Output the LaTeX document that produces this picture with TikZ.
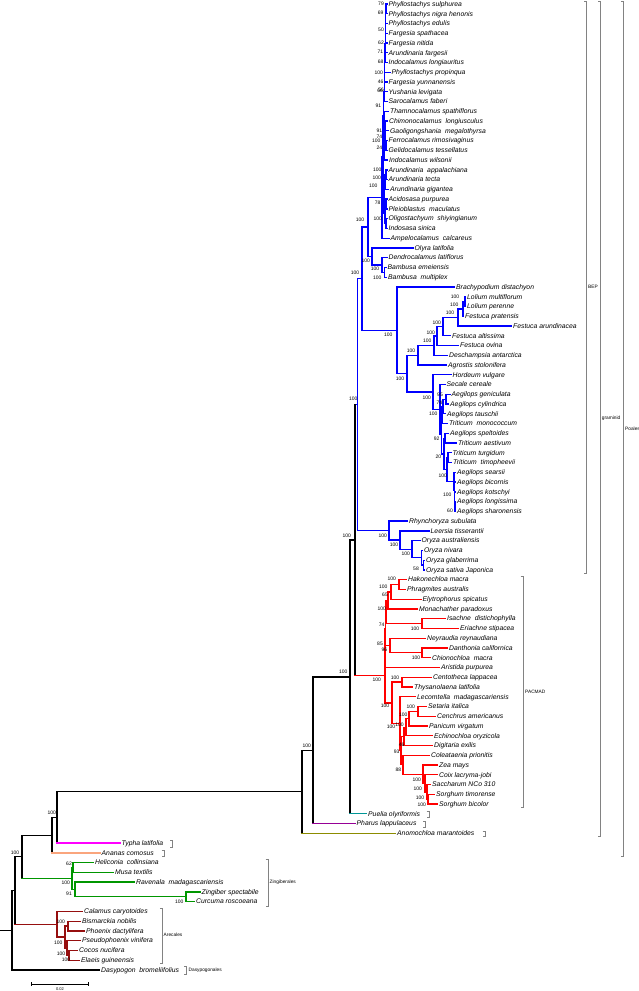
\documentclass[tikz,border=0pt]{standalone}
\usepackage{fontspec}
\setmainfont{Liberation Sans}
\usetikzlibrary{calc}
\definecolor{cbl}{RGB}{0,0,255}
\definecolor{crd}{RGB}{255,0,0}
\definecolor{cgr}{RGB}{0,150,0}
\definecolor{cdr}{RGB}{150,15,15}
\definecolor{cmg}{RGB}{255,0,255}
\definecolor{csl}{RGB}{250,165,125}
\definecolor{ctl}{RGB}{0,150,150}
\definecolor{cpu}{RGB}{150,0,150}
\definecolor{col}{RGB}{140,140,0}
\definecolor{cblk}{RGB}{0,0,0}
\definecolor{cgy}{RGB}{130,130,130}
\tikzset{
  br/.style={line width=1.3pt, line cap=rect},
  leaflab/.style={anchor=base west, inner sep=0pt, xshift=1.5pt, yshift=-2.3pt, font=\fontsize{6.8}{7}\selectfont\itshape},
  bs/.style={inner sep=0pt, font=\fontsize{5}{5}\selectfont},
  brk/.style={draw=cgy, line width=0.8pt},
  brklab/.style={anchor=west, inner sep=0pt, font=\fontsize{4.8}{5}\selectfont},
}
\newcommand\mkleaf[4]{%
  \coordinate (#1) at (#3, {4+(#2-1)*9.757});
  \node[leaflab] (#1t) at (#1) {#4};}
\newcommand\mkinode[7]{%
  \path let \p1=(#3), \p2=(#4) in coordinate (#1) at (#2pt, {0.5*(\y1)+0.5*(\y2)});
  \draw[br,#5] (#3) -- (#1 |- #3);
  \draw[br,#6] (#1 |- #3) -- (#1 |- #4);
  \draw[br,#7] (#1 |- #4) -- (#4);}
\newcommand\mknode[5]{\mkinode{#1}{#2}{#3}{#4}{#5}{#5}{#5}}
\newcommand\mkbrk[3]{\draw[brk] (#1-2.5,#2) -- (#1,#2) -- (#1,#3) -- (#1-2.5,#3);}
\begin{document}
\begin{tikzpicture}[x=1pt,y=-1pt]
\useasboundingbox (0,0) rectangle (639,991);
\fill[white] (0,0) rectangle (639,991);
% leaves
\foreach \tx/\lab [count=\i] in {
387/Phyllostachys sulphurea,
387/Phyllostachys nigra henonis,
387/Phyllostachys edulis,
387/Fargesia spathacea,
387/Fargesia nitida,
387/Arundinaria fargesii,
387/Indocalamus longiauritus,
390/Phyllostachys propinqua,
387/Fargesia yunnanensis,
387/Yushania levigata,
387/Sarocalamus faberi,
388.5/Thamnocalamus spathiflorus,
387.5/Chimonocalamus\ \ longiusculus,
388.5/Gaoligongshania\ \ megalothyrsa,
387/Ferrocalamus rimosivaginus,
387/Gelidocalamus tessellatus,
387.5/Indocalamus wilsonii,
387/Arundinaria\ \ appalachiana,
387/Arundinaria tecta,
388.5/Arundinaria gigantea,
387/Acidosasa purpurea,
387/Pleioblastus\ \ maculatus,
387/Oligostachyum\ \ shiyingianum,
387/Indosasa sinica,
389/Ampelocalamus\ \ calcareus,
413/Olyra latifolia,
387/Dendrocalamus latiflorus,
386/Bambusa emeiensis,
386.5/Bambusa\ \ multiplex,
454.5/Brachypodium distachyon,
465.5/Lolium multiflorum,
465.5/Lolium perenne,
463.5/Festuca pratensis,
511.5/Festuca arundinacea,
450.5/Festuca altissima,
458.5/Festuca ovina,
447.5/Deschampsia antarctica,
446.5/Agrostis stolonifera,
451/Hordeum vulgare,
445/Secale cereale,
450/Aegilops geniculata,
448.5/Aegilops cylindrica,
445.5/Aegilops tauschii,
447.5/Triticum\ \ monococcum,
448.5/Aegilops speltoides,
456.5/Triticum aestivum,
451/Triticum turgidum,
451.5/Triticum\ \ timopheevii,
455.5/Aegilops searsii,
455.5/Aegilops bicornis,
455.5/Aegilops kotschyi,
455.5/Aegilops longissima,
455.5/Aegilops sharonensis,
407.5/Rhynchoryza subulata,
429/Leersia tisserantii,
420/Oryza australiensis,
422.5/Oryza nivara,
424.5/Oryza glaberrima,
424.5/Oryza sativa Japonica,
406.5/Hakonechloa macra,
405.5/Phragmites australis,
421/Elytrophorus spicatus,
417.5/Monachather paradoxus,
445.5/Isachne\ \ distichophylla,
458.5/Eriachne stipacea,
425.5/Neyraudia reynaudiana,
447.5/Danthonia californica,
430.5/Chionochloa\ \ macra,
439.5/Aristida purpurea,
431.5/Centotheca lappacea,
412.5/Thysanolaena latifolia,
415.5/Lecomtella\ \ madagascariensis,
426.5/Setaria italica,
435.5/Cenchrus americanus,
427.5/Panicum virgatum,
432.5/Echinochloa oryzicola,
432.5/Digitaria exilis,
429.5/Coleataenia prionitis,
437.5/Zea mays,
437.5/Coix lacryma-jobi,
430.5/Saccharum NCo 310,
434.5/Sorghum timorense,
437.5/Sorghum bicolor,
366.5/Puelia olyriformis,
355/Pharus lappulaceus,
395.5/Anomochloa marantoides,
120/Typha latifolia,
100/Ananas comosus,
93.5/Heliconia\ \ collinsiana,
113.5/Musa textilis,
134.5/Ravenala\ \ madagascariensis,
200/Zingiber spectabile,
194.5/Curcuma roscoeana,
82.5/Calamus caryotoides,
80.5/Bismarckia nobilis,
84.5/Phoenix dactylifera,
80.5/Pseudophoenix vinifera,
77.5/Cocos nucifera,
79.5/Elaeis guineensis,
99.5/Dasypogon\ \ bromeliifolius}
{\mkleaf{L\i}{\i}{\tx}{\lab}}
% Arundinarieae
\mknode{u1}{386}{L1}{L2}{cbl}
\mknode{u2}{385.8}{u1}{L3}{cbl}
\mknode{u3}{385.6}{u2}{L4}{cbl}
\mknode{u4}{385.4}{u3}{L5}{cbl}
\mknode{u5}{385.2}{u4}{L6}{cbl}
\mknode{u6}{385}{u5}{L7}{cbl}
\mknode{u7}{384.8}{u6}{L8}{cbl}
\mknode{u8}{384.6}{u7}{L9}{cbl}
\mknode{u9}{384.4}{u8}{L10}{cbl}
\mknode{u10}{384.2}{u9}{L11}{cbl}
\mknode{v1}{386}{L15}{L16}{cbl}
\mknode{v2}{385.5}{L14}{v1}{cbl}
\mknode{v3}{385}{L13}{v2}{cbl}
\mknode{v4}{384.5}{L12}{v3}{cbl}
\mknode{v5}{384}{v4}{L17}{cbl}
\mknode{s1}{383.5}{u10}{v5}{cbl}
\mknode{a1}{386}{L18}{L19}{cbl}
\mknode{a2}{385}{a1}{L20}{cbl}
\mknode{c1}{386}{L21}{L22}{cbl}
\mknode{c2}{386}{L23}{L24}{cbl}
\mknode{c3}{385}{c1}{c2}{cbl}
\mknode{s2}{384}{a2}{c3}{cbl}
\mknode{xx}{383}{s1}{s2}{cbl}
\mknode{arun}{382}{xx}{L25}{cbl}
\mknode{bb1}{384.5}{L28}{L29}{cbl}
\mknode{bb2}{382}{L27}{bb1}{cbl}
\mknode{ob}{372}{L26}{bb2}{cbl}
\mknode{bamb}{368}{arun}{ob}{cbl}
% Pooideae
\mknode{p1}{465}{L31}{L32}{cbl}
\mknode{p2}{463}{p1}{L33}{cbl}
\mknode{p3}{458}{p2}{L34}{cbl}
\mknode{p4}{443}{p3}{L35}{cbl}
\mknode{p5}{437}{p4}{L36}{cbl}
\mknode{p6}{434}{p5}{L37}{cbl}
\mknode{poeae}{418}{p6}{L38}{cbl}
\mknode{g1}{446}{L41}{L42}{cbl}
\mknode{g2}{443}{g1}{L43}{cbl}
\mknode{g3}{442}{g2}{L44}{cbl}
\mknode{g4}{445}{L45}{L46}{cbl}
\mknode{g5}{448}{L47}{L48}{cbl}
\mknode{h1}{455}{L52}{L53}{cbl}
\mknode{h2}{454.7}{L51}{h1}{cbl}
\mknode{h3}{454.4}{L50}{h2}{cbl}
\mknode{h4}{454}{L49}{h3}{cbl}
\mknode{g7}{447}{g5}{h4}{cbl}
\mknode{g8}{444}{g4}{g7}{cbl}
\mknode{g9}{441.5}{g3}{g8}{cbl}
\mknode{t1}{440}{L40}{g9}{cbl}
\mknode{t0}{433}{L39}{t1}{cbl}
\mknode{core}{407}{poeae}{t0}{cbl}
\mknode{pooid}{397}{L30}{core}{cbl}
\mknode{bp}{362}{bamb}{pooid}{cbl}
% Oryzoideae
\mknode{o1}{423.5}{L58}{L59}{cbl}
\mknode{o2}{421.5}{L57}{o1}{cbl}
\mknode{o3}{412}{L56}{o2}{cbl}
\mknode{o4}{400}{L55}{o3}{cbl}
\mknode{ory}{389}{L54}{o4}{cbl}
\mknode{bep}{357.5}{bp}{ory}{cbl}
% PACMAD
\mknode{q1}{399}{L60}{L61}{crd}
\mknode{q2}{391}{q1}{L62}{crd}
\mknode{q3}{388}{q2}{L63}{crd}
\mknode{q4}{422}{L64}{L65}{crd}
\mknode{q5}{386}{q3}{q4}{crd}
\mknode{q6}{422}{L67}{L68}{crd}
\mknode{q7}{390}{L66}{q6}{crd}
\mknode{q8}{385.5}{q5}{q7}{crd}
\mknode{q9}{385}{q8}{L69}{crd}
\mknode{r1}{402}{L70}{L71}{crd}
\mknode{k1}{418}{L73}{L74}{crd}
\mknode{k2}{409}{k1}{L75}{crd}
\mknode{k3}{406}{k2}{L76}{crd}
\mknode{k4}{404}{k3}{L77}{crd}
\mknode{m1}{428}{L82}{L83}{crd}
\mknode{m2}{427}{L81}{m1}{crd}
\mknode{m3}{425}{L80}{m2}{crd}
\mknode{m4}{423}{L79}{m3}{crd}
\mknode{m5}{403}{L78}{m4}{crd}
\mknode{d1}{401}{k4}{m5}{crd}
\mknode{d2}{400}{L72}{d1}{crd}
\mknode{r2}{392}{r1}{d2}{crd}
\mknode{pac}{385}{q9}{r2}{crd}
% backbone
\mkinode{bpac}{355}{bep}{pac}{cbl}{cblk}{crd}
\mkinode{pue}{350}{bpac}{L84}{cblk}{cblk}{ctl}
\mkinode{pha}{313}{pue}{L85}{cblk}{cblk}{cpu}
\mkinode{poa}{302}{pha}{L86}{cblk}{cblk}{col}
\mkinode{typ}{57}{poa}{L87}{cblk}{cblk}{cmg}
\mkinode{ana}{52}{typ}{L88}{cblk}{cblk}{csl}
% Zingiberales
\mknode{z3}{73}{L89}{L90}{cgr}
\mknode{z1}{186}{L92}{L93}{cgr}
\mknode{z2}{75}{L91}{z1}{cgr}
\mknode{zing}{72}{z3}{z2}{cgr}
\mkinode{pz}{22}{ana}{zing}{cblk}{cblk}{cgr}
% Arecales
\mknode{ra1}{68}{L95}{L96}{cdr}
\mknode{ra2}{69}{L98}{L99}{cdr}
\mknode{ra3}{67}{L97}{ra2}{cdr}
\mknode{ra4}{65}{ra1}{ra3}{cdr}
\mknode{are}{57}{L94}{ra4}{cdr}
\mkinode{comm}{15}{pz}{are}{cblk}{cblk}{cdr}
\mkinode{root}{12}{comm}{L100}{cblk}{cblk}{cblk}
\path let \p1=(root) in coordinate (r0) at (0pt,\y1);
\draw[br,cblk] (r0) -- (root);
% bootstrap values
\foreach \bx/\by/\bt [count=\i] in {
381/4/79, 380.7/12.3/69, 381/29.3/50, 381/42.7/62, 380.3/51.7/71, 380.7/62/68,
378.7/72.7/100, 380.7/81.7/46, 380.2/90.5/66, 381.2/89.5/56, 378.3/106/91,
379.3/130.7/91, 379.3/136.3/74, 376.2/141.2/100, 379.3/147.7/24, 377.3/170/100,
376.7/177.3/100, 373.3/185.7/100, 377.7/202.3/78, 377.7/218.3/100, 360/220/100,
365.7/261/100, 375/269/100, 377.3/277.3/100, 355/272.3/100, 455/296.7/100,
454.3/304.3/100, 450/312.3/100, 436.7/322.3/100, 430.7/332.3/100, 427.3/341/100,
388.3/334.3/100, 411/350.7/100, 400/378.3/100, 426.7/397.3/100, 440/394.3/95,
439.3/402.3/74, 433.3/413.3/100, 436.7/438.3/92, 438.3/456.7/20, 442.7/475.7/100,
447.3/494.3/100, 450/510.7/60, 353.3/398.3/100, 346.7/535.7/100, 382.7/535.7/100,
394/544.3/100, 405.7/553.3/100, 416/569/58, 391.7/579/100, 383.3/586.7/100,
385/595/65, 381.7/608.3/100, 381.7/624.3/74, 415/628.3/100, 380/643.3/85,
384.3/650/96, 416/657.7/100, 343.3/671.7/100, 376.7/680/100, 395/677.3/100,
385/705.7/100, 410.7/706.7/100, 403.3/714.3/100, 391/727/100, 399.5/725/100,
401.7/745/46, 396.7/751.7/93, 398.3/770/88, 416.7/779.3/100, 417.7/788.3/100,
420/797.3/100, 421.7/805/100, 306.7/746/100, 51.7/812.7/100, 15/852.3/100,
69/863.3/62, 65.7/882.7/100, 69/894/91, 179.3/901.7/100, 60.7/921.7/100,
58.3/942.3/100, 61/953.3/100, 66/960/100}
{\node[bs] (b\i) at (\bx,\by) {\bt};}
% brackets
\mkbrk{586.5}{1}{573}
\mkbrk{600.5}{1}{836}
\mkbrk{623.3}{1}{856}
\mkbrk{523}{576}{807}
\mkbrk{429}{811.5}{817}
\mkbrk{425.7}{821.5}{827}
\mkbrk{485}{831}{836.5}
\mkbrk{172.5}{840}{847}
\mkbrk{164}{850}{856.5}
\mkbrk{268}{859}{906}
\mkbrk{162.3}{908}{963}
\mkbrk{186.5}{966.5}{974}
\node[brklab] (lbep) at (588,287) {BEP};
\node[brklab] (lgram) at (601.7,418.3) {graminid};
\node[brklab] (lpoa) at (625,428.3) {Poales};
\node[brklab] (lpac) at (525,692) {PACMAD};
\node[brklab] (lzin) at (269.5,882.3) {Zingiberales};
\node[brklab] (lare) at (163.5,935) {Arecales};
\node[brklab] (ldas) at (188.5,970) {Dasypogonales};
% scale bar
\coordinate (sb1) at (31.7,984);
\coordinate (sb2) at (88.3,984);
\draw[line width=1pt] (sb1) -- (sb2);
\draw[line width=1pt] ($(sb1)+(0,-2)$) -- ($(sb1)+(0,2)$);
\draw[line width=1pt] ($(sb2)+(0,-2)$) -- ($(sb2)+(0,2)$);
\node[bs, font=\fontsize{4}{4}\selectfont] (sbl) at (60,989.5) {0.02};
\end{tikzpicture}
\end{document}
